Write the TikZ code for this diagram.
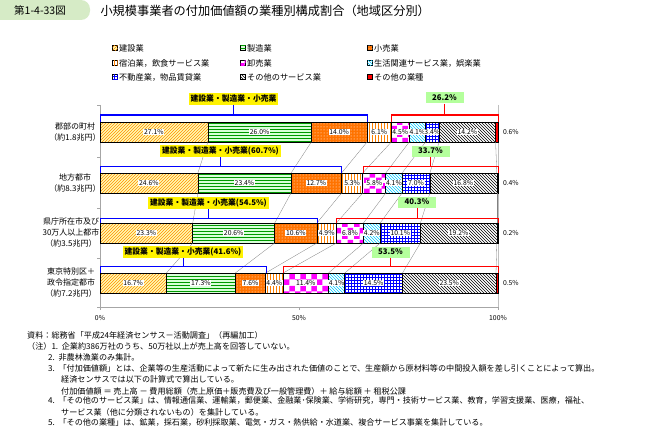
\documentclass[tikz,border=0pt]{standalone}
\usepackage{fontspec}
\setmainfont{Noto Sans CJK JP}
\usetikzlibrary{patterns}
\definecolor{hdr}{HTML}{D6EBC6}
\definecolor{gbox}{HTML}{B4FF9C}
\tikzset{
 seg1/.style={fill=yellow!30,postaction={pattern=north east lines,pattern color=orange!90!yellow}},
 seg2/.style={fill=green!15,postaction={pattern=horizontal lines,pattern color=green!60!black}},
 seg3/.style={fill=orange!90!red,postaction={pattern=dots,pattern color=white}},
 seg4/.style={fill=white,postaction={pattern=vertical lines,pattern color=orange}},
 seg5/.style={fill=white,postaction={pattern=checkerboard,pattern color=magenta}},
 seg6/.style={fill=white,postaction={pattern=north west lines,pattern color=cyan!80!blue}},
 seg7/.style={fill=white,postaction={pattern=grid,pattern color=blue}},
 seg8/.style={fill=white,postaction={pattern=north west lines,pattern color=black}},
 seg9/.style={fill=red},
 lab/.style={fill=white,inner sep=0.8pt,font=\fontsize{6.8}{7}\selectfont},
 ybox/.style={fill=yellow,inner sep=2pt,font=\fontsize{7.8}{8}\selectfont\bfseries,minimum height=12pt},
 gbx/.style={fill=gbox,inner sep=2pt,font=\fontsize{7.8}{8}\selectfont\bfseries,minimum height=11pt,minimum width=38pt},
 blbr/.style={draw=blue,line width=1pt},
 rdbr/.style={draw=red,line width=1pt},
 conn/.style={draw=gray,line width=0.3pt},
 rowlab/.style={align=center,font=\fontsize{8}{11}\selectfont},
 note/.style={anchor=west,font=\fontsize{8.1}{9}\selectfont,inner sep=0pt},
 leg/.style={anchor=west,font=\fontsize{8.2}{9}\selectfont,inner sep=0pt},
}
\newcommand\mybar[3]{% #1 row id, #2 y top, #3 values
 \gdef\cum{0}
 \foreach \v [count=\i] in {#3} {
  \pgfmathsetmacro\a{\cum}\pgfmathsetmacro\b{\cum+\v}
  \ifnum\i=9 \def\b{100}\fi
  \path[seg\i] (100+3.98*\a,#2) rectangle (100+3.98*\b,#2+20);
  \draw[line width=0.6pt] (100+3.98*\a,#2) rectangle (100+3.98*\b,#2+20);
  \coordinate (b#1-\i-t) at (100+3.98*\b,#2);
  \coordinate (b#1-\i-b) at (100+3.98*\b,#2+20);
  \ifnum\i<9
   \node[lab] (l#1-\i) at (100+3.98*\a/2+3.98*\b/2,#2+10) {\v\%};
  \else
   \node[lab,anchor=west] (l#1-\i) at (502,#2+10) {\v\%};
  \fi
  \xdef\cum{\b}
 }}
\begin{document}
\begin{tikzpicture}[x=1pt,y=-1pt]
\useasboundingbox (0,0) rectangle (655,433);
% header
\node[fill=hdr,rounded corners=9pt,minimum width=100pt,minimum height=20pt,font=\fontsize{10.5}{12}\selectfont] (hd) at (40,10) {第1-4-33図};
\node[anchor=west,font=\fontsize{12.2}{13}\selectfont] (tt) at (97,11) {小規模事業者の付加価値額の業種別構成割合（地域区分別）};
% legend
\foreach \t/\x/\y [count=\k] in {建設業/115/48,製造業/243/48,小売業/370/48,{宿泊業，飲食サービス業}/115/63,卸売業/243/63,{生活関連サービス業，娯楽業}/370/63,{不動産業，物品賃貸業}/115/77,その他のサービス業/243/77,その他の業種/370/77}{
 \path[seg\k,draw=black,line width=0.4pt] (\x-2.5,\y-2.5) rectangle (\x+2.5,\y+2.5);
 \node[leg] (lg\k) at (\x+4,\y) {\t};
}
% axes
\draw[gray!70] (100,105) -- (100,307) -- (498,307);
\draw[gray!50] (498,105) -- (498,307);
\foreach \y in {105,157,208,258,307} \draw[gray!70] (97,\y) -- (100,\y);
\foreach \x/\t in {100/0\%,299/50\%,498/100\%}{\draw[gray!70] (\x,307) -- (\x,310); \node[font=\fontsize{6.8}{7}\selectfont] at (\x,318) {\t};}
% bars
\mybar{1}{122}{27.1,26.0,14.0,6.1,4.5,4.1,3.4,14.2,0.6}
\mybar{2}{173}{24.6,23.4,12.7,5.3,5.8,4.1,7.0,16.8,0.4}
\mybar{3}{223}{23.3,20.6,10.6,4.9,6.8,4.2,10.1,19.2,0.2}
\mybar{4}{273}{16.7,17.3,7.6,4.4,11.4,4.1,14.5,23.5,0.5}
% connectors
\foreach \u/\l in {1/2,2/3,3/4}\foreach \i in {1,...,8} \draw[conn] (b\u-\i-b) -- (b\l-\i-t);
% row labels
\node[rowlab] (r1) at (75,132) {郡部の町村\\（約1.8兆円）};
\node[rowlab] (r2) at (75,183) {地方都市\\（約8.3兆円）};
\node[rowlab] (r3) at (71,233) {県庁所在市及び\\30万人以上都市\\（約3.5兆円）};
\node[rowlab] (r4) at (71,283) {東京特別区＋\\政令指定都市\\（約7.2兆円）};
% brackets
\foreach \r/\yb/\yl/\lx/\rx/\yy/\yt/\gx/\gy/\gt in {
 1/122/115/367/391/99/建設業・製造業・小売業/448/98/26.2\%,
 2/173/166/341/363/151/建設業・製造業・小売業(60.7\%)/432/151/33.7\%,
 3/223/218/317/336/203/建設業・製造業・小売業(54.5\%)/416/202/40.3\%,
 4/273/266/266/283/252/建設業・製造業・小売業(41.6\%)/390/252/53.5\%}{
 \coordinate (bl\r) at (100,\yb); \coordinate (br\r) at (\lx,\yb);
 \coordinate (rl\r) at (\rx,\yb); \coordinate (rr\r) at (498,\yb);
 \draw[blbr] (bl\r) -- (100,\yl) -- (\lx,\yl) -- (br\r);
 \draw[rdbr] (rl\r) -- (\rx,\yl) -- (498,\yl) -- (rr\r);
 \node[ybox] (y\r) at ({(100+\lx)/2},\yy) {\yt};
 \node[gbx] (g\r) at ({(\rx+498)/2},\gy) {\gt};
 \draw[blbr] (y\r.south) -- ({(100+\lx)/2},\yl);
 \draw[rdbr] (g\r.south) -- ({(\rx+498)/2},\yl);
}
% notes
\node[note] (n0) at (27,335) {資料：総務省「平成24年経済センサス－活動調査」（再編加工）};
\node[note] (n1) at (27,346) {（注）1.\ \ 企業約386万社のうち、50万社以上が売上高を回答していない。};
\node[note] (n2) at (48,357) {2.\ \ 非農林漁業のみ集計。};
\node[note] (n3) at (48,368) {3.\ \ 「付加価値額」とは、企業等の生産活動によって新たに生み出された価値のことで、生産額から原材料等の中間投入額を差し引くことによって算出。};
\node[note] (n3b) at (61,379) {経済センサスでは以下の計算式で算出している。};
\node[note] (n3c) at (61,391) {付加価値額 ＝ 売上高 － 費用総額（売上原価＋販売費及び一般管理費）＋ 給与総額 ＋ 租税公課};
\node[note] (n4) at (48,401) {4.\ \ 「その他のサービス業」は、情報通信業、運輸業，郵便業、金融業･保険業、学術研究，専門・技術サービス業、教育，学習支援業、医療，福祉、};
\node[note] (n4b) at (61,412) {サービス業（他に分類されないもの）を集計している。};
\node[note] (n5) at (48,423) {5.\ \ 「その他の業種」は、鉱業，採石業，砂利採取業、電気・ガス・熱供給・水道業、複合サービス事業を集計している。};
\end{tikzpicture}
\end{document}
